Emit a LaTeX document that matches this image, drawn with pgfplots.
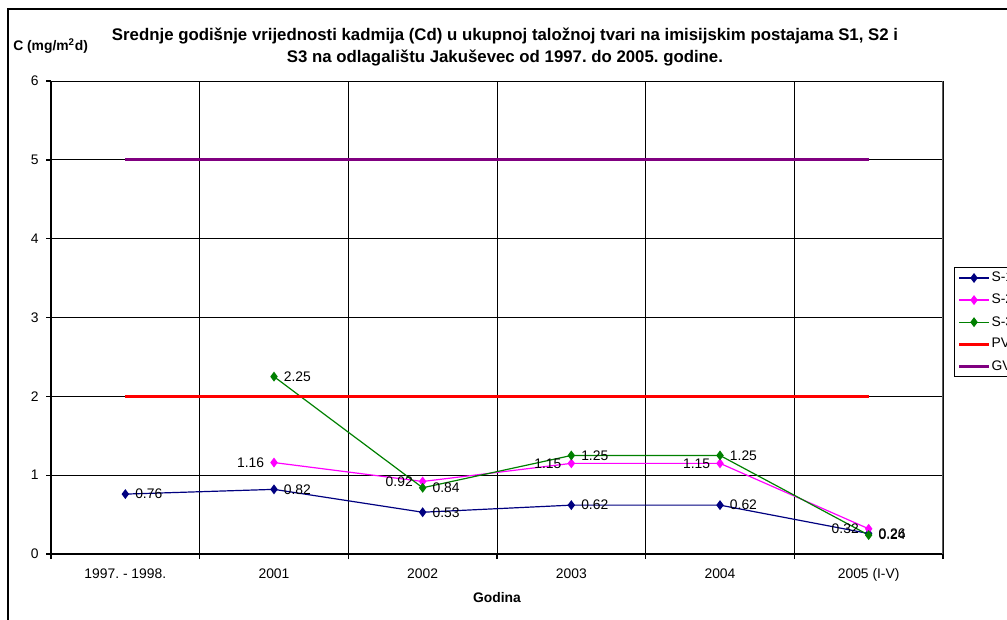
\documentclass[border=0pt]{standalone}
\usepackage{fontspec}
\setmainfont{Liberation Sans}
\usepackage{pgfplots}
\pgfplotsset{compat=1.18}
\frenchspacing

\definecolor{sone}{RGB}{0,0,128}
\definecolor{stwo}{RGB}{255,0,255}
\definecolor{sthree}{RGB}{0,128,0}
\definecolor{pvred}{RGB}{255,0,0}
\definecolor{gvpurple}{RGB}{128,0,128}
\definecolor{frame}{RGB}{90,90,90}

\begin{document}
\begin{tikzpicture}[x=0.75pt,y=-0.75pt]
\useasboundingbox (0,0) rectangle (1007,619);
% chart frame
\draw[line width=1.1pt] (8,700) -- (8,9) -- (1100,9);
% title
\node[font=\bfseries\fontsize{12.6}{16.5}\selectfont, align=center] at (505,47)
  {Srednje godišnje vrijednosti kadmija (Cd) u ukupnoj taložnoj tvari na imisijskim postajama S1, S2 i\\
   S3 na odlagalištu Jakuševec od 1997. do 2005. godine.};
\node[font=\bfseries\fontsize{10.4}{12}\selectfont, anchor=west, inner sep=0pt] at (13,46) {C (mg/m\textsuperscript{2}d)};
\node[font=\bfseries\fontsize{10.4}{12}\selectfont] at (497,598) {Godina};

\begin{axis}[
  at={(38.25pt,-415.5pt)}, anchor=south west,
  scale only axis, width=669pt, height=354.75pt,
  xmin=-0.5, xmax=5.5, ymin=0, ymax=6,
  axis x line*=bottom, axis y line*=left,
  axis line style={line width=1.5pt, -},
  tick align=outside,
  major tick length=3.75pt,
  tick style={line width=1pt, black},
  xtick={-0.5,0.5,...,5.5}, xticklabels={},
  ytick={0,1,...,6},
  extra x ticks={0,1,2,3,4,5},
  extra x tick labels={1997. - 1998.,2001,2002,2003,2004,2005 (I-V)},
  extra x tick style={major tick length=0pt, grid=none},
  xmajorgrids, ymajorgrids,
  grid style={black, line width=0.75pt},
  ticklabel style={font=\fontsize{10.4}{12}\selectfont},
  /pgf/number format/assume math mode=true,
  xticklabel style={yshift=-7.5pt},
  yticklabel style={xshift=-2pt},
  every axis plot/.append style={line width=0.9pt},
  legend style={
    at={(1.0123,0.6068)}, anchor=north west,
    draw=black, line width=0.75pt,
    font=\fontsize{10.4}{12}\selectfont,
    row sep=5.8pt, inner sep=2.5pt,
    nodes={inner sep=1pt},
  },
  legend cell align=left,
  legend image code/.code={
    \draw[mark repeat=2,mark phase=2,#1] plot coordinates {(0pt,0pt) (11pt,0pt) (22pt,0pt)};
  },
  mark size=3pt,
  nodes near coords={\pgfmathprintnumber[fixed,fixed zerofill,precision=2,assume math mode=true]{\pgfplotspointmeta}},
  every node near coord/.append style={font=\fontsize{10.4}{12}\selectfont, black, inner sep=0pt},
]
% S-1
\addplot[color=sone, mark=diamond*, mark options={fill=sone},
  every node near coord/.append style={anchor=west, xshift=7pt, yshift=0pt}]
  coordinates {(0,0.76) (1,0.82) (2,0.53) (3,0.62) (4,0.62) (5,0.26)};
\addlegendentry{S-1}
% S-2
\addplot[color=stwo, mark=diamond*, mark options={fill=stwo},
  every node near coord/.append style={anchor=east, xshift=-7pt, yshift=0pt}]
  coordinates {(1,1.16) (2,0.92) (3,1.15) (4,1.15) (5,0.32)};
\addlegendentry{S-2}
% S-3
\addplot[color=sthree, mark=diamond*, mark options={fill=sthree},
  every node near coord/.append style={anchor=west, xshift=7pt, yshift=0pt}]
  coordinates {(1,2.25) (2,0.84) (3,1.25) (4,1.25) (5,0.24)};
\addlegendentry{S-3}
% limit values
\addplot[color=pvred, line width=2.3pt, no markers, nodes near coords={}]
  coordinates {(0,2) (1,2) (2,2) (3,2) (4,2) (5,2)};
\addlegendentry{PV}
\addplot[color=gvpurple, line width=2.3pt, no markers, nodes near coords={}]
  coordinates {(0,5) (1,5) (2,5) (3,5) (4,5) (5,5)};
\addlegendentry{GV}
% plot area border
\draw[frame, line width=1.5pt] (rel axis cs:1,0) -- (rel axis cs:1,1);
\end{axis}
\end{tikzpicture}
\end{document}
